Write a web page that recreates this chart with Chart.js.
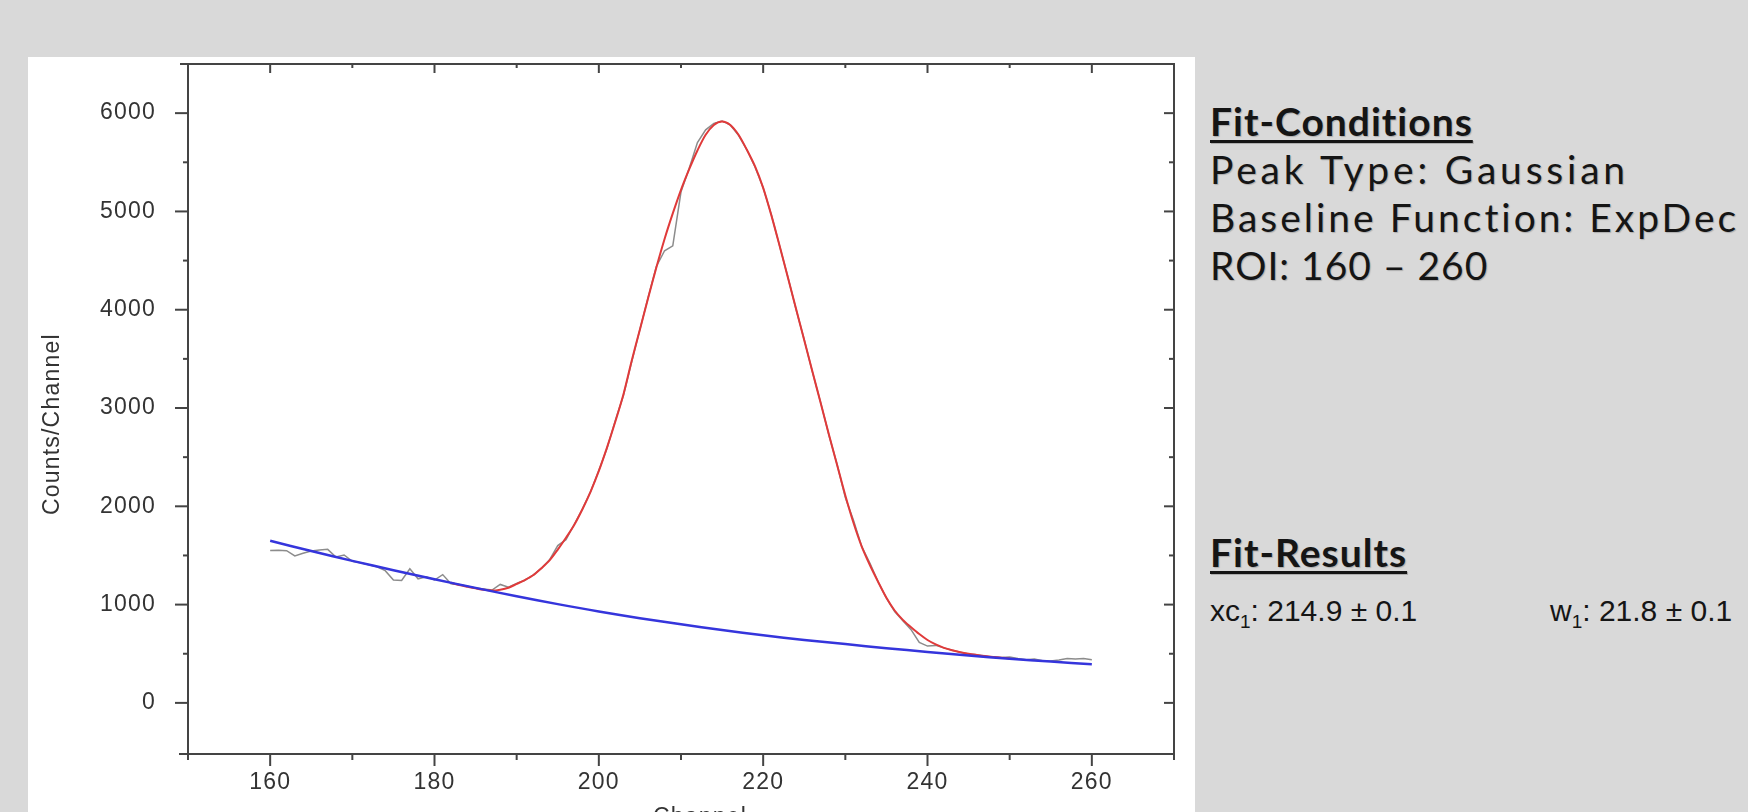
<!DOCTYPE html>
<html lang="en">
<head>
<meta charset="UTF-8">
<title>Peak fit</title>
<script src="https://cdn.jsdelivr.net/npm/chart.js"></script>
<style>
    body {
        margin: 0;
        width: 1748px;
        height: 812px;
        overflow: hidden;
        position: relative;
        background: #d9d9d9;
        font-family: "Lato", sans-serif;
    }
    .panel {
        position: absolute;
        left: 28px;
        top: 57px;
        width: 1167px;
        height: 800px;
        background: #fff;
    }
    .notes {
        position: absolute;
        left: 1210px;
        color: #151515;
        text-shadow: 1px 1px 1px rgba(0, 0, 0, 0.2);
    }
    .head {
        font-weight: 700;
        font-size: 39px;
        line-height: 47px;
        letter-spacing: 1px;
        text-decoration: underline;
        text-decoration-thickness: 3px;
        text-underline-offset: 4px;
    }
    .line {
        font-size: 39px;
        line-height: 48px;
        letter-spacing: 3px;
    }
    .res {
        position: absolute;
        top: 593px;
        font-family: "Liberation Sans", Arial, sans-serif;
        font-size: 30px;
        line-height: 36px;
        color: #151515;
    }
    .res sub { font-size: 19px; line-height: 0; }
</style>
</head>
<body>
<div class="panel"><canvas id="fitChart" width="1167" height="800"></canvas></div>

<div class="notes" style="top:98px">
    <div class="head">Fit-Conditions</div>
    <div class="line" style="letter-spacing:3.8px">Peak Type: Gaussian</div>
    <div class="line">Baseline Function: ExpDec</div>
    <div class="line" style="letter-spacing:1px">ROI: 160 – 260</div>
</div>
<div class="notes" style="top:529px">
    <div class="head">Fit-Results</div>
</div>
<div class="res" style="left:1210px">xc<sub>1</sub>: 214.9 ± 0.1</div>
<div class="res" style="left:1550px">w<sub>1</sub>: 21.8 ± 0.1</div>

<script>
// measured counts, one value per channel starting at 160
const rawStart = 160;
const rawCounts = [
    1550, 1553, 1548, 1495, 1522, 1545, 1556, 1562, 1485, 1505,
    1440, 1425, 1405, 1385, 1345, 1250, 1245, 1365, 1262, 1282,
    1250, 1305, 1212, 1205, 1186, 1168, 1158, 1148, 1205, 1178,
    1215, 1248, 1300, 1368, 1455, 1600, 1660, 1815, 1972, 2150,
    2365, 2590, 2870, 3130, 3470, 3800, 4125, 4440, 4600, 4650,
    5200, 5440, 5700, 5830, 5895, 5920, 5880, 5775, 5630, 5455,
    5240, 4965, 4650, 4335, 4005, 3695, 3365, 3055, 2725, 2425,
    2090, 1855, 1590, 1420, 1230, 1065, 930, 835, 745, 615,
    578, 585, 560, 535, 515, 498, 490, 478, 468, 462,
    468, 452, 440, 446, 430, 425, 436, 452, 446, 452,
    440
];

// fitted peak + baseline, one value per channel starting at 182
const fitStart = 182;
const fitCounts = [
    1222, 1200, 1182, 1165, 1150, 1143, 1152, 1172,
    1210, 1250, 1298, 1370, 1450, 1560, 1680, 1810, 1970, 2150,
    2360, 2600, 2860, 3140, 3480, 3800, 4120, 4430, 4720, 4980,
    5220, 5430, 5620, 5780, 5880, 5915, 5880, 5780, 5630, 5460,
    5240, 4960, 4650, 4330, 4010, 3690, 3370, 3050, 2730, 2420,
    2110, 1830, 1590, 1400, 1230, 1070, 940, 845, 770, 700,
    640, 595, 560, 535, 515, 500, 488, 477, 468, 460,
    452
];

// ExpDec baseline
const baseChannels = [160, 165, 170, 175, 180, 185, 190, 195, 200, 205, 210,
                      215, 220, 225, 230, 235, 240, 245, 250, 255, 260];
const baseCounts = [1649, 1545, 1445, 1350, 1258, 1170, 1085, 1005, 930, 862, 800,
                    742, 688, 640, 598, 557, 518, 482, 450, 420, 393];

const xMajorTicks = [160, 180, 200, 220, 240, 260];
const xMinorTicks = [170, 190, 210, 230, 250];
const yMajorTicks = [0, 1000, 2000, 3000, 4000, 5000, 6000];
const yMinorTicks = [500, 1500, 2500, 3500, 4500, 5500];

const axisColor = '#444';
const labelFont = { family: '"Liberation Sans", Arial, sans-serif', size: 23 };
const titleFont = { family: '"Liberation Sans", Arial, sans-serif', size: 23 };

// keep the plot box where we put it: drop the label overhang padding chart.js adds
const noOverhang = s => {
    s.paddingTop = 0;
    s.paddingBottom = 0;
    s.paddingLeft = 0;
    s.paddingRight = 0;
};

// Origin-style frame: outward ticks left/bottom, inward ticks top/right, plus minor ticks
const frameTicks = {
    id: 'frameTicks',
    beforeDraw(chart) {
        chart.ctx.letterSpacing = '1.2px';
    },
    afterDraw(chart) {
        const { ctx, chartArea: a, scales: { x, y } } = chart;
        const seg = (x1, y1, x2, y2) => {
            ctx.beginPath();
            ctx.moveTo(x1, y1);
            ctx.lineTo(x2, y2);
            ctx.stroke();
        };
        ctx.save();
        ctx.strokeStyle = axisColor;
        ctx.lineWidth = 2;
        xMajorTicks.forEach(v => {
            const px = x.getPixelForValue(v);
            seg(px, a.bottom, px, a.bottom + 12);
            seg(px, a.top, px, a.top + 9);
        });
        xMinorTicks.forEach(v => {
            const px = x.getPixelForValue(v);
            seg(px, a.bottom, px, a.bottom + 6);
            seg(px, a.top, px, a.top + 4);
        });
        yMajorTicks.forEach(v => {
            const py = y.getPixelForValue(v);
            seg(a.left - 13, py, a.left, py);
            seg(a.right - 10, py, a.right, py);
        });
        yMinorTicks.forEach(v => {
            const py = y.getPixelForValue(v);
            seg(a.left - 5, py, a.left, py);
            seg(a.right - 5, py, a.right, py);
        });
        // small overhangs at the corners
        seg(a.left - 8, a.top, a.left, a.top);
        seg(a.left - 9, a.bottom, a.left, a.bottom);
        seg(a.left, a.bottom, a.left, a.bottom + 6);
        seg(a.right, a.bottom, a.right, a.bottom + 6);
        ctx.restore();
    }
};

const ctx = document.getElementById('fitChart').getContext('2d');
new Chart(ctx, {
    type: 'line',
    data: {
        datasets: [
            {
                label: 'Baseline',
                data: baseChannels.map((c, i) => ({ x: c, y: baseCounts[i] })),
                borderColor: '#3535dc',
                borderWidth: 2.5,
                pointRadius: 0,
                tension: 0.4
            },
            {
                label: 'Fit',
                data: fitCounts.map((v, i) => ({ x: fitStart + i, y: v })),
                borderColor: '#e03a3a',
                borderWidth: 2,
                pointRadius: 0,
                tension: 0.3
            },
            {
                label: 'Data',
                data: rawCounts.map((v, i) => ({ x: rawStart + i, y: v })),
                borderColor: '#8c8c8c',
                borderWidth: 1.5,
                pointRadius: 0,
                tension: 0
            }
        ]
    },
    options: {
        responsive: false,
        animation: false,
        layout: { padding: { top: 7, right: 21, left: 0, bottom: 0 } },
        plugins: {
            legend: { display: false },
            tooltip: { enabled: false }
        },
        scales: {
            x: {
                type: 'linear',
                position: 'bottom',
                min: 150,
                max: 270,
                afterBuildTicks: s => { s.ticks = xMajorTicks.map(v => ({ value: v })); },
                afterFit: s => { s.height = 103; noOverhang(s); },
                grid: { display: false },
                border: { display: true, color: axisColor, width: 2 },
                ticks: { font: labelFont, color: '#333', padding: 7, maxRotation: 0, callback: v => String(v) },
                title: {
                    display: true,
                    text: '     Channel', // leading spaces push it a bit right, as in the original
                    font: titleFont,
                    color: '#333',
                    padding: { top: 0, bottom: 26 }
                }
            },
            x2: {
                type: 'linear',
                position: 'top',
                min: 150,
                max: 270,
                afterFit: s => { s.height = 0; noOverhang(s); },
                grid: { display: false },
                ticks: { display: false },
                border: { display: true, color: axisColor, width: 2 }
            },
            y: {
                type: 'linear',
                position: 'left',
                min: -520,
                max: 6500,
                afterBuildTicks: s => { s.ticks = yMajorTicks.map(v => ({ value: v })); },
                afterFit: s => { s.width = 160; noOverhang(s); },
                grid: { display: false },
                border: { display: true, color: axisColor, width: 2 },
                ticks: { font: labelFont, color: '#333', padding: 24, callback: v => String(v) },
                title: {
                    display: true,
                    text: 'Counts/Channel    ', // trailing spaces shift it down like the original
                    font: titleFont,
                    color: '#333',
                    padding: { top: 11, bottom: 0 }
                }
            },
            y2: {
                type: 'linear',
                position: 'right',
                min: -520,
                max: 6500,
                afterFit: s => { s.width = 0; noOverhang(s); },
                grid: { display: false },
                ticks: { display: false },
                border: { display: true, color: axisColor, width: 2 }
            }
        }
    },
    plugins: [frameTicks]
});
</script>
</body>
</html>
